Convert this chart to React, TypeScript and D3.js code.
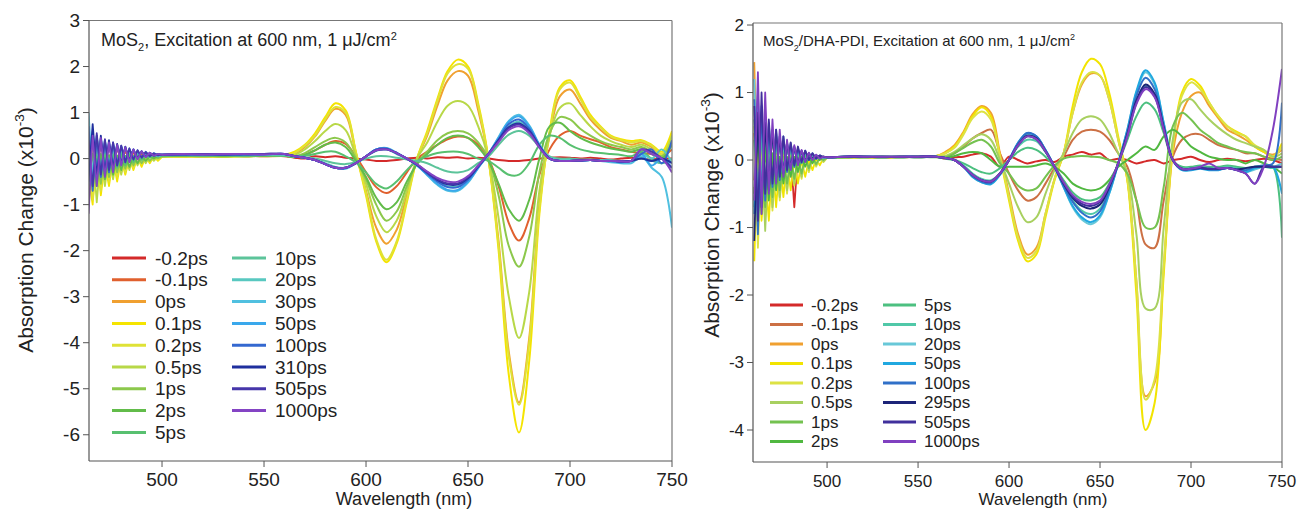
import React from 'react';
import * as d3 from 'd3';

// ---------- LEFT PANEL (MoS2) ----------
const L_WAVELENGTH = [464,466,468,470,472,474,476,478,480,482,484,486,488,490,492,494,496,498,500,
  510,520,530,540,550,560,
  565,570,575,580,585,590,595,600,605,610,615,620,625,630,635,640,645,650,655,660,665,670,675,680,685,690,695,700,705,710,715,720,725,730,735,740,745,750];

const L_LABELS = ['-0.2ps','-0.1ps','0ps','0.1ps','0.2ps','0.5ps','1ps','2ps','5ps','10ps','20ps','30ps','50ps','100ps','310ps','505ps','1000ps'];
const L_COLORS = ['#d42a2a','#e0602e','#f0a030','#f5e400','#dfe236','#b8d848','#8cc84c','#62bc4a','#58c070','#5cc49a','#58c8c0','#50c0e0','#3aa8ec','#3468d0','#1f2f9e','#4636aa','#8444c4'];

const L_m02 = [0.3,-0.4,0.35,-0.2,0.25,-0.15,0.2,-0.1,0.15,0.0,0.12,0.02,0.1,0.03,0.1,0.05,0.08,0.05,0.06,
  0.06,0.05,0.07,0.05,0.06,0.05,
  0.02,0.0,0.05,0.03,0.05,0.02,0.0,-0.02,-0.05,-0.05,-0.03,0.0,0.02,0.0,0.03,0.02,0.03,0.0,0.02,0.0,-0.03,-0.05,-0.05,-0.03,0.0,0.02,0.03,0.02,0.0,0.02,0.0,-0.02,0.0,0.02,0.0,-0.02,0.0,0.0];
const L_m01 = [-0.3,0.4,-0.25,0.3,-0.1,0.25,-0.05,0.2,0.0,0.15,0.02,0.12,0.04,0.1,0.05,0.08,0.06,0.07,0.06,
  0.05,0.06,0.05,0.06,0.05,0.06,
  0.03,0.08,0.18,0.3,0.38,0.32,0.05,-0.3,-0.62,-0.75,-0.6,-0.3,0.0,0.15,0.3,0.42,0.48,0.45,0.3,0.0,-0.6,-1.4,-1.78,-1.3,-0.35,0.2,0.5,0.6,0.5,0.42,0.35,0.25,0.2,0.15,0.12,0.1,0.05,0.2];
const L_0 = [0.5,-0.6,0.3,-0.4,0.2,-0.3,0.15,-0.2,0.1,-0.1,0.08,-0.05,0.08,0.0,0.06,0.03,0.05,0.04,0.05,
  0.05,0.04,0.05,0.06,0.05,0.06,
  0.1,0.25,0.48,0.82,1.08,0.95,0.12,-0.7,-1.5,-1.85,-1.55,-0.8,0.0,0.5,1.15,1.7,1.9,1.8,1.05,0.0,-1.8,-4.2,-5.3,-3.9,-1.0,0.5,1.35,1.5,1.2,0.85,0.62,0.45,0.38,0.3,0.35,0.25,0.1,0.45];
const L_01 = [-0.4,-1.0,0.2,-0.8,-0.1,-0.6,0.0,-0.5,0.0,-0.35,0.02,-0.25,0.03,-0.18,0.04,-0.1,0.05,-0.05,0.04,
  0.04,0.05,0.04,0.05,0.06,0.08,
  0.15,0.3,0.55,0.9,1.2,1.05,0.15,-0.8,-1.8,-2.25,-1.85,-0.95,0.0,0.6,1.3,1.9,2.15,2.0,1.2,0.0,-2.0,-4.7,-5.95,-4.4,-1.2,0.6,1.55,1.7,1.35,0.95,0.7,0.5,0.42,0.38,0.4,0.3,0.15,0.6];
const L_02 = [0.3,-0.9,-0.1,-0.7,0.1,-0.5,-0.05,-0.4,0.05,-0.3,0.0,-0.2,0.04,-0.12,0.05,-0.06,0.05,-0.02,0.05,
  0.05,0.04,0.05,0.05,0.06,0.07,
  0.12,0.28,0.5,0.85,1.12,1.0,0.15,-0.75,-1.75,-2.2,-1.8,-0.9,0.0,0.55,1.25,1.85,2.05,1.95,1.15,0.0,-1.9,-4.3,-5.35,-4.0,-1.1,0.55,1.5,1.65,1.3,0.9,0.68,0.48,0.4,0.35,0.38,0.28,0.1,0.5];
const L_05 = [-0.6,0.2,-0.95,0.1,-0.6,0.05,-0.45,0.05,-0.35,0.05,-0.25,0.05,-0.15,0.05,-0.1,0.05,-0.05,0.05,0.05,
  0.05,0.06,0.05,0.05,0.06,0.07,
  0.08,0.2,0.38,0.6,0.75,0.62,0.05,-0.55,-1.25,-1.6,-1.35,-0.7,0.0,0.35,0.8,1.15,1.25,1.15,0.7,0.0,-1.3,-3.0,-3.9,-2.9,-0.7,0.5,1.1,1.2,0.95,0.7,0.5,0.38,0.3,0.25,0.3,0.2,0.05,0.5];
const L_1 = [0.2,-0.7,0.0,-0.55,0.05,-0.4,0.02,-0.3,0.05,-0.22,0.05,-0.15,0.05,-0.1,0.05,-0.05,0.05,0.0,0.05,
  0.06,0.05,0.06,0.05,0.06,0.06,
  0.05,0.12,0.25,0.38,0.45,0.35,0.0,-0.45,-1.0,-1.35,-1.15,-0.6,-0.1,0.15,0.4,0.55,0.6,0.55,0.35,0.0,-0.8,-1.9,-2.35,-1.7,-0.3,0.55,0.9,0.85,0.65,0.5,0.38,0.3,0.25,0.2,0.25,0.15,0.05,0.35];
const L_2 = [-0.5,0.1,-0.6,0.1,-0.45,0.08,-0.35,0.07,-0.25,0.06,-0.18,0.06,-0.1,0.06,-0.05,0.06,0.0,0.06,0.05,
  0.06,0.06,0.05,0.06,0.06,0.06,
  0.03,0.08,0.18,0.3,0.35,0.25,-0.05,-0.4,-0.85,-1.1,-0.95,-0.5,-0.12,0.1,0.3,0.45,0.5,0.45,0.25,-0.05,-0.55,-1.1,-1.35,-0.9,0.0,0.7,0.78,0.6,0.45,0.35,0.28,0.22,0.18,0.15,0.2,0.1,0.0,0.3];
const L_5 = [0.1,-0.5,0.2,-0.4,0.15,-0.3,0.12,-0.2,0.1,-0.15,0.1,-0.08,0.08,-0.03,0.08,0.02,0.07,0.04,0.06,
  0.07,0.06,0.07,0.06,0.07,0.06,
  0.04,0.06,0.1,0.15,0.15,0.05,-0.08,-0.3,-0.55,-0.65,-0.5,-0.25,-0.05,0.05,0.12,0.15,0.15,0.1,0.0,-0.05,-0.2,-0.35,-0.35,-0.1,0.3,0.5,0.45,0.3,0.2,0.15,0.12,0.1,0.08,0.05,0.15,0.0,-0.1,0.0];
const L_10 = [0.4,-0.3,0.3,-0.25,0.25,-0.15,0.2,-0.1,0.18,-0.05,0.15,0.0,0.12,0.03,0.1,0.05,0.08,0.06,0.07,
  0.08,0.07,0.08,0.07,0.08,0.07,
  0.05,0.03,0.0,-0.05,-0.1,-0.12,-0.08,0.0,0.05,0.05,0.02,-0.02,-0.05,-0.1,-0.2,-0.28,-0.3,-0.25,-0.1,0.05,0.3,0.52,0.6,0.5,0.25,0.05,0.0,0.0,-0.02,-0.02,-0.03,-0.03,-0.05,-0.05,0.0,-0.05,-0.1,0.0];
const L_20 = [0.6,-0.4,0.45,-0.3,0.35,-0.2,0.3,-0.1,0.25,-0.05,0.2,0.0,0.15,0.03,0.12,0.05,0.1,0.06,0.08,
  0.08,0.09,0.08,0.09,0.08,0.09,
  0.05,0.02,-0.02,-0.1,-0.18,-0.2,-0.1,0.04,0.17,0.2,0.1,0.0,-0.13,-0.3,-0.48,-0.6,-0.6,-0.45,-0.18,0.08,0.4,0.7,0.8,0.62,0.28,0.02,-0.03,-0.03,-0.04,-0.03,-0.04,-0.05,-0.05,-0.05,0.1,0.0,0.2,-0.1];
const L_30 = [1.0,-0.5,0.5,-0.35,0.4,-0.2,0.3,-0.15,0.25,-0.05,0.2,0.0,0.16,0.03,0.12,0.05,0.1,0.06,0.08,
  0.09,0.08,0.09,0.08,0.1,0.09,
  0.05,0.02,-0.03,-0.12,-0.2,-0.22,-0.1,0.05,0.2,0.23,0.13,0.0,-0.15,-0.36,-0.57,-0.7,-0.7,-0.52,-0.2,0.1,0.47,0.82,0.95,0.72,0.3,0.0,-0.05,-0.05,-0.05,-0.03,-0.05,-0.08,-0.1,-0.1,0.05,-0.2,-0.4,-1.5];
const L_50 = [-0.6,0.6,-0.3,0.45,-0.25,0.35,-0.15,0.3,-0.1,0.25,-0.05,0.2,0.0,0.16,0.03,0.12,0.06,0.1,0.08,
  0.08,0.1,0.09,0.1,0.09,0.1,
  0.05,0.02,-0.03,-0.12,-0.2,-0.2,-0.1,0.05,0.2,0.22,0.12,0.0,-0.15,-0.35,-0.55,-0.68,-0.68,-0.5,-0.2,0.1,0.45,0.8,0.92,0.7,0.3,0.0,-0.05,-0.05,-0.05,-0.03,-0.05,-0.05,-0.08,-0.05,0.1,-0.15,0.0,-0.2];
const L_100 = [0.7,-0.7,0.5,-0.4,0.4,-0.3,0.35,-0.15,0.28,-0.08,0.22,-0.02,0.18,0.02,0.15,0.05,0.12,0.07,0.09,
  0.09,0.1,0.08,0.1,0.09,0.1,
  0.05,0.02,-0.03,-0.12,-0.2,-0.2,-0.1,0.05,0.2,0.22,0.12,0.0,-0.14,-0.33,-0.5,-0.62,-0.62,-0.46,-0.18,0.1,0.42,0.75,0.85,0.65,0.28,0.0,-0.05,-0.05,-0.04,-0.03,-0.05,-0.05,-0.08,-0.05,0.1,0.2,-0.1,0.4];
const L_310 = [-0.5,0.75,-0.4,0.5,-0.3,0.4,-0.2,0.32,-0.12,0.26,-0.05,0.2,0.0,0.16,0.04,0.13,0.06,0.1,0.08,
  0.1,0.09,0.1,0.09,0.1,0.1,
  0.05,0.02,-0.03,-0.12,-0.2,-0.2,-0.1,0.05,0.18,0.2,0.12,0.0,-0.13,-0.3,-0.46,-0.56,-0.56,-0.42,-0.17,0.1,0.4,0.68,0.76,0.6,0.26,0.0,-0.05,-0.05,-0.04,-0.03,-0.05,-0.05,-0.06,-0.05,0.0,-0.05,0.0,-0.1];
const L_505 = [0.4,-0.6,0.55,-0.35,0.42,-0.25,0.35,-0.15,0.28,-0.08,0.22,-0.02,0.18,0.02,0.14,0.05,0.11,0.07,0.09,
  0.09,0.1,0.09,0.1,0.1,0.1,
  0.05,0.02,-0.03,-0.12,-0.2,-0.2,-0.1,0.05,0.18,0.2,0.12,0.0,-0.13,-0.3,-0.45,-0.54,-0.54,-0.4,-0.16,0.1,0.38,0.66,0.74,0.58,0.25,0.0,-0.05,-0.05,-0.04,-0.03,-0.05,-0.05,-0.06,-0.05,0.2,0.15,0.0,-0.2];
const L_1000 = [-1.2,0.5,-0.6,0.45,-0.4,0.35,-0.3,0.3,-0.15,0.25,-0.08,0.2,-0.02,0.16,0.03,0.13,0.06,0.1,0.08,
  0.1,0.09,0.1,0.1,0.09,0.1,
  0.05,0.02,-0.03,-0.12,-0.2,-0.2,-0.1,0.05,0.18,0.2,0.12,0.0,-0.12,-0.28,-0.42,-0.5,-0.5,-0.38,-0.15,0.1,0.36,0.62,0.7,0.55,0.24,0.0,-0.05,-0.05,-0.04,-0.03,-0.05,-0.05,-0.06,-0.05,0.2,0.1,0.0,-0.3];
const L_SERIES = [L_m02,L_m01,L_0,L_01,L_02,L_05,L_1,L_2,L_5,L_10,L_20,L_30,L_50,L_100,L_310,L_505,L_1000];
const L_YTICKS = [3,2,1,0,-1,-2,-3,-4,-5,-6];
const L_XTICKS = [500,550,600,650,700,750];

// ---------- RIGHT PANEL (MoS2/DHA-PDI) ----------
const R_WAVELENGTH = [460,462,464,466,468,470,472,474,476,478,480,482,484,486,488,490,492,494,496,498,500,
  510,520,530,540,550,560,
  565,570,575,580,585,590,595,600,605,610,615,620,625,630,635,640,645,650,655,660,665,670,675,680,685,690,695,700,705,710,715,720,725,730,735,740,745,750];

const R_LABELS = ['-0.2ps','-0.1ps','0ps','0.1ps','0.2ps','0.5ps','1ps','2ps','5ps','10ps','20ps','50ps','100ps','295ps','505ps','1000ps'];
const R_COLORS = ['#d42a2a','#cc7044','#f0a030','#f2e400','#dde244','#a8d060','#74c250','#50b840','#4cc080','#50c8a8','#68c8d8','#20a8e0','#3070c8','#1c2478','#40309c','#8040c0'];

const R_m02 = [0.4,-0.5,0.3,-0.3,0.25,-0.2,0.2,-0.15,0.15,-0.1,0.12,-0.7,0.1,-0.05,0.08,0.0,0.06,0.02,0.05,0.03,0.04,
  0.04,0.05,0.03,0.05,0.04,0.05,
  0.02,0.04,0.05,0.08,0.1,0.05,-0.1,0.05,0.0,-0.05,-0.02,0.0,-0.03,0.05,0.08,0.12,0.08,0.1,0.0,0.02,0.0,-0.05,-0.02,0.0,-0.05,0.0,0.02,0.05,0.0,-0.03,0.0,0.02,0.0,-0.02,0.0,0.02,0.0,-0.05];
const R_m01 = [-0.3,0.5,-0.35,0.35,-0.2,0.3,-0.1,0.2,-0.05,0.15,0.0,0.12,0.02,0.1,0.03,0.08,0.04,0.06,0.05,0.05,0.04,
  0.05,0.04,0.05,0.04,0.05,0.05,
  0.05,0.1,0.2,0.32,0.4,0.45,0.1,-0.2,-0.45,-0.6,-0.55,-0.35,-0.12,0.05,0.3,0.42,0.45,0.42,0.3,0.1,-0.1,-0.6,-1.25,-1.3,-0.6,0.05,0.3,0.38,0.38,0.3,0.22,0.18,0.15,0.1,0.1,0.05,0.02,0.0];
const R_0 = [1.45,-0.6,0.5,-0.4,0.3,-0.3,0.25,-0.2,0.15,-0.1,0.1,-0.05,0.08,0.0,0.06,0.02,0.05,0.03,0.04,0.03,0.04,
  0.04,0.05,0.04,0.05,0.05,0.06,
  0.12,0.22,0.42,0.68,0.8,0.7,0.1,-0.5,-1.1,-1.4,-1.3,-0.8,-0.28,0.1,0.7,1.12,1.28,1.25,0.9,0.3,-0.28,-1.8,-3.5,-3.3,-1.6,0.1,0.7,0.95,1.0,0.8,0.62,0.45,0.38,0.3,0.2,0.12,0.08,0.15];
const R_01 = [-1.5,0.3,-0.9,-0.2,-0.9,0.0,-0.7,0.0,-0.55,0.0,-0.45,0.0,-0.35,0.0,-0.25,0.0,-0.15,0.02,-0.08,0.03,0.03,
  0.03,0.04,0.03,0.04,0.05,0.06,
  0.1,0.2,0.4,0.65,0.78,0.65,0.05,-0.6,-1.2,-1.5,-1.4,-0.85,-0.3,0.1,0.8,1.3,1.5,1.42,1.0,0.35,-0.3,-2.0,-4.0,-3.6,-1.7,0.2,1.0,1.2,1.1,0.85,0.65,0.5,0.42,0.35,0.2,0.12,0.05,0.25];
const R_02 = [0.5,-1.3,0.1,-0.85,0.05,-0.75,0.0,-0.6,0.0,-0.5,0.02,-0.38,0.02,-0.28,0.03,-0.18,0.03,-0.1,0.03,-0.03,0.03,
  0.03,0.04,0.04,0.04,0.05,0.06,
  0.1,0.18,0.38,0.62,0.72,0.6,0.05,-0.55,-1.15,-1.45,-1.35,-0.8,-0.28,0.1,0.7,1.15,1.3,1.25,0.9,0.3,-0.28,-1.8,-3.55,-3.25,-1.55,0.2,0.95,1.15,1.05,0.85,0.65,0.5,0.4,0.35,0.22,0.15,0.05,0.2];
const R_05 = [-0.4,-1.0,0.2,-1.05,0.1,-0.7,0.05,-0.55,0.05,-0.45,0.04,-0.35,0.04,-0.25,0.04,-0.15,0.04,-0.08,0.04,-0.02,0.04,
  0.04,0.04,0.05,0.04,0.05,0.05,
  0.06,0.12,0.22,0.32,0.38,0.3,0.0,-0.35,-0.7,-0.92,-0.85,-0.5,-0.15,0.1,0.4,0.6,0.65,0.6,0.4,0.1,-0.2,-1.1,-2.2,-2.2,-1.0,0.3,0.85,0.9,0.75,0.6,0.48,0.38,0.3,0.25,0.2,0.15,0.05,0.1];
const R_1 = [0.3,-0.8,-0.2,-0.7,0.1,-0.55,0.05,-0.45,0.05,-0.35,0.04,-0.28,0.04,-0.2,0.04,-0.12,0.04,-0.06,0.04,0.0,0.04,
  0.04,0.05,0.04,0.05,0.04,0.05,
  0.04,0.1,0.18,0.26,0.3,0.2,-0.05,-0.2,-0.38,-0.45,-0.42,-0.25,-0.08,0.02,0.05,0.06,0.05,0.04,0.0,-0.05,-0.2,-0.6,-1.0,-1.0,-0.4,0.5,0.7,0.6,0.45,0.35,0.25,0.2,0.15,0.12,0.1,0.05,0.0,0.05];
const R_2 = [-0.5,0.4,-0.8,0.2,-0.6,0.1,-0.45,0.05,-0.35,0.05,-0.25,0.05,-0.18,0.05,-0.1,0.05,-0.05,0.05,0.0,0.04,0.04,
  0.05,0.04,0.05,0.04,0.05,0.04,
  0.03,0.06,0.1,0.12,0.1,0.0,-0.1,-0.1,-0.1,-0.1,-0.08,-0.05,-0.1,-0.2,-0.35,-0.42,-0.45,-0.42,-0.3,-0.1,0.0,0.1,0.2,0.15,0.35,0.45,0.35,0.2,0.12,0.05,0.02,0.0,0.0,-0.05,0.0,-0.05,-0.1,-0.2];
const R_5 = [0.6,-0.6,0.4,-0.5,0.3,-0.35,0.25,-0.25,0.2,-0.15,0.15,-0.1,0.1,-0.05,0.08,0.0,0.06,0.02,0.05,0.03,0.04,
  0.04,0.05,0.04,0.05,0.04,0.05,
  0.02,0.0,-0.05,-0.12,-0.18,-0.2,-0.12,0.0,0.12,0.18,0.15,0.05,-0.1,-0.3,-0.48,-0.58,-0.6,-0.55,-0.35,-0.05,0.3,0.65,0.85,0.75,0.4,0.0,-0.1,-0.1,-0.08,-0.1,-0.1,-0.08,-0.1,-0.12,-0.1,-0.08,-0.1,-1.15];
const R_10 = [-0.7,0.8,-0.4,0.5,-0.3,0.4,-0.25,0.3,-0.15,0.22,-0.1,0.16,-0.05,0.12,0.0,0.1,0.02,0.07,0.04,0.05,0.04,
  0.05,0.04,0.05,0.05,0.04,0.05,
  0.03,0.0,-0.08,-0.2,-0.28,-0.3,-0.2,0.0,0.2,0.3,0.28,0.12,-0.1,-0.35,-0.6,-0.75,-0.8,-0.72,-0.45,-0.05,0.4,0.85,1.1,0.95,0.5,0.0,-0.12,-0.12,-0.1,-0.12,-0.12,-0.1,-0.12,-0.15,-0.12,-0.1,-0.12,-0.1];
const R_20 = [1.2,-0.9,0.7,-0.5,0.5,-0.35,0.4,-0.25,0.3,-0.15,0.22,-0.08,0.16,-0.03,0.12,0.0,0.08,0.02,0.06,0.03,0.04,
  0.05,0.05,0.04,0.05,0.05,0.05,
  0.03,0.0,-0.1,-0.25,-0.33,-0.35,-0.22,0.0,0.25,0.38,0.33,0.15,-0.1,-0.4,-0.7,-0.88,-0.95,-0.85,-0.5,-0.05,0.45,1.0,1.3,1.12,0.55,0.0,-0.14,-0.14,-0.12,-0.14,-0.14,-0.12,-0.14,-0.18,-0.14,-0.1,-0.1,-0.05];
const R_50 = [-0.8,1.0,-0.6,0.6,-0.4,0.45,-0.3,0.35,-0.2,0.25,-0.12,0.18,-0.06,0.13,-0.02,0.1,0.02,0.07,0.04,0.05,0.04,
  0.05,0.05,0.05,0.04,0.05,0.05,
  0.03,0.0,-0.1,-0.25,-0.33,-0.36,-0.22,0.0,0.26,0.4,0.35,0.15,-0.1,-0.4,-0.68,-0.85,-0.92,-0.82,-0.5,-0.05,0.45,1.02,1.33,1.15,0.55,0.0,-0.15,-0.15,-0.13,-0.15,-0.15,-0.12,-0.15,-0.18,-0.12,-0.1,-0.1,-0.5];
const R_100 = [0.9,-1.1,0.8,-0.6,0.55,-0.4,0.45,-0.3,0.35,-0.18,0.25,-0.1,0.18,-0.04,0.14,0.0,0.1,0.02,0.07,0.04,0.04,
  0.05,0.05,0.04,0.05,0.05,0.05,
  0.03,0.0,-0.1,-0.24,-0.32,-0.34,-0.2,0.0,0.25,0.4,0.35,0.15,-0.1,-0.38,-0.62,-0.78,-0.85,-0.76,-0.45,-0.05,0.42,0.95,1.22,1.05,0.5,0.0,-0.14,-0.14,-0.12,-0.14,-0.14,-0.12,-0.14,-0.15,-0.1,-0.08,-0.05,0.85];
const R_295 = [-1.2,0.7,-0.7,0.55,-0.45,0.45,-0.3,0.35,-0.2,0.26,-0.12,0.2,-0.06,0.14,-0.02,0.1,0.02,0.07,0.04,0.05,0.04,
  0.05,0.05,0.05,0.05,0.05,0.05,
  0.03,0.0,-0.1,-0.22,-0.3,-0.32,-0.2,0.0,0.22,0.36,0.32,0.13,-0.1,-0.35,-0.56,-0.68,-0.72,-0.66,-0.4,-0.05,0.38,0.88,1.12,0.98,0.48,0.0,-0.13,-0.13,-0.12,-0.13,-0.13,-0.12,-0.14,-0.12,-0.1,-0.1,-0.1,-0.1];
const R_505 = [0.8,-0.9,1.0,-0.5,0.6,-0.35,0.45,-0.25,0.35,-0.15,0.26,-0.08,0.2,-0.03,0.14,0.0,0.1,0.02,0.07,0.04,0.04,
  0.05,0.05,0.05,0.05,0.05,0.05,
  0.03,0.0,-0.1,-0.22,-0.3,-0.32,-0.2,0.0,0.22,0.35,0.31,0.13,-0.1,-0.34,-0.54,-0.65,-0.68,-0.62,-0.38,-0.05,0.36,0.85,1.08,0.95,0.46,0.0,-0.13,-0.13,-0.12,-0.13,-0.13,-0.12,-0.15,-0.2,-0.35,-0.1,-0.1,-0.1];
const R_1000 = [-0.6,1.3,-0.8,1.0,-0.5,0.6,-0.35,0.45,-0.25,0.3,-0.15,0.22,-0.08,0.15,-0.03,0.11,0.0,0.08,0.02,0.05,0.04,
  0.05,0.05,0.05,0.05,0.05,0.05,
  0.03,0.0,-0.1,-0.22,-0.3,-0.32,-0.2,0.0,0.22,0.35,0.31,0.13,-0.1,-0.33,-0.52,-0.62,-0.65,-0.6,-0.37,-0.05,0.35,0.83,1.05,0.93,0.45,0.0,-0.13,-0.13,-0.1,-0.05,-0.12,-0.12,-0.15,-0.2,-0.35,-0.1,0.45,1.35];
const R_SERIES = [R_m02,R_m01,R_0,R_01,R_02,R_05,R_1,R_2,R_5,R_10,R_20,R_50,R_100,R_295,R_505,R_1000];
const R_YTICKS = [2,1,0,-1,-2,-3,-4];
const R_XTICKS = [500,550,600,650,700,750];

const FONT = '"Liberation Sans", Arial, Helvetica, sans-serif';

type PanelCfg = {
  id: string;
  wl: number[];
  noiseEnd: number;
  series: number[][];
  labels: string[];
  colors: string[];
  yTicks: number[];
  xTicks: number[];
  xDomain: [number, number];
  yDomain: [number, number];
  left: number; right: number; top: number; bottom: number;
  title: string;
  titleX: number; titleY: number; titleSize: number;
  yLabelX: number; yLabelY: number; yLabelSize: number;
  xLabelX: number; xLabelY: number; xLabelSize: number;
  tickSize: number;
  legend: { x1: number; x2: number; y: number; dy: number; colGap: number; textGap: number; perCol: number; size: number };
};

function Panel({ c }: { c: PanelCfg }) {
  const x = d3.scaleLinear().domain(c.xDomain).range([c.left, c.right]);
  const y = d3.scaleLinear().domain(c.yDomain).range([c.bottom, c.top]);
  const pts = (s: number[]) => s.map((v, i) => [c.wl[i], v] as [number, number]);
  const noiseLine = d3.line<[number, number]>().x((d) => x(d[0])).y((d) => y(d[1])).curve(d3.curveLinear);
  const smoothLine = d3.line<[number, number]>().x((d) => x(d[0])).y((d) => y(d[1])).curve(d3.curveCatmullRom.alpha(0.5));
  const lg = c.legend;
  const sub = Math.round(c.titleSize * 0.62);
  return (
    <g>
      <defs>
        <clipPath id={`clip-${c.id}`}>
          <rect x={c.left} y={c.top} width={c.right - c.left} height={c.bottom - c.top} />
        </clipPath>
      </defs>
      <g clipPath={`url(#clip-${c.id})`}>
        {c.series.map((s, i) => {
          const p = pts(s);
          return (
            <g key={i}>
              <path d={noiseLine(p.slice(0, c.noiseEnd)) || ''} fill="none" stroke={c.colors[i]} strokeWidth={1.8} strokeLinejoin="round" />
              <path d={smoothLine(p.slice(c.noiseEnd - 1)) || ''} fill="none" stroke={c.colors[i]} strokeWidth={2} strokeLinejoin="round" />
            </g>
          );
        })}
      </g>
      {/* frame */}
      <line x1={c.left} x2={c.right} y1={c.top} y2={c.top} stroke="#777" strokeWidth={1.2} />
      <line x1={c.right} x2={c.right} y1={c.top} y2={c.bottom} stroke="#777" strokeWidth={1.2} />
      <line x1={c.left} x2={c.left} y1={c.top} y2={c.bottom} stroke="#555" strokeWidth={1.2} />
      <line x1={c.left} x2={c.right} y1={c.bottom} y2={c.bottom} stroke="#555" strokeWidth={1.2} />
      {c.yTicks.map((t) => (
        <g key={`y${t}`}>
          <line x1={c.left - 6} x2={c.left} y1={y(t)} y2={y(t)} stroke="#555" strokeWidth={1} />
          <text x={c.left - 9} y={y(t)} dy="0.35em" textAnchor="end" fontSize={c.tickSize} fontFamily={FONT} fill="#222">{t}</text>
        </g>
      ))}
      {c.xTicks.map((t) => (
        <g key={`x${t}`}>
          <line x1={x(t)} x2={x(t)} y1={c.bottom} y2={c.bottom + 6} stroke="#555" strokeWidth={1} />
          <text x={x(t)} y={c.bottom + 25} textAnchor="middle" fontSize={c.tickSize} fontFamily={FONT} fill="#222">{t}</text>
        </g>
      ))}
      <text x={c.xLabelX} y={c.xLabelY} textAnchor="middle" fontSize={c.xLabelSize} fontFamily={FONT} fill="#222">Wavelength (nm)</text>
      <text transform={`translate(${c.yLabelX},${c.yLabelY}) rotate(-90)`} textAnchor="middle" fontSize={c.yLabelSize} fontFamily={FONT} fill="#222">
        Absorption Change (x10<tspan dy={-9} fontSize={c.yLabelSize * 0.65}>-3</tspan><tspan dy={9}>)</tspan>
      </text>
      <text x={c.titleX} y={c.titleY} fontSize={c.titleSize} fontFamily={FONT} fill="#222">
        MoS<tspan dy={5} fontSize={sub}>2</tspan><tspan dy={-5}>{c.title}</tspan><tspan dy={-6} fontSize={sub}>2</tspan>
      </text>
      {c.labels.map((lab, i) => {
        const col = Math.floor(i / lg.perCol);
        const row = i % lg.perCol;
        const ly = lg.y + row * lg.dy;
        const lx1 = lg.x1 + col * lg.colGap;
        const lx2 = lg.x2 + col * lg.colGap;
        return (
          <g key={lab}>
            <line x1={lx1} x2={lx2} y1={ly} y2={ly} stroke={c.colors[i]} strokeWidth={3} />
            <text x={lx2 + lg.textGap} y={ly} dy="0.35em" fontSize={lg.size} fontFamily={FONT} fill="#222">{lab}</text>
          </g>
        );
      })}
    </g>
  );
}

const LEFT: PanelCfg = {
  id: 'l', wl: L_WAVELENGTH, noiseEnd: 19, series: L_SERIES, labels: L_LABELS, colors: L_COLORS,
  yTicks: L_YTICKS, xTicks: L_XTICKS,
  xDomain: [464.2, 750], yDomain: [-6.57, 3],
  left: 89, right: 672, top: 20.5, bottom: 461,
  title: ', Excitation at 600 nm, 1 \u03bcJ/cm',
  titleX: 101, titleY: 46, titleSize: 18,
  yLabelX: 33, yLabelY: 230, yLabelSize: 21,
  xLabelX: 404, xLabelY: 505, xLabelSize: 18,
  tickSize: 19,
  legend: { x1: 112, x2: 146, y: 258, dy: 21.8, colGap: 120, textGap: 9, perCol: 9, size: 19 },
};

const RIGHT: PanelCfg = {
  id: 'r', wl: R_WAVELENGTH, noiseEnd: 21, series: R_SERIES, labels: R_LABELS, colors: R_COLORS,
  yTicks: R_YTICKS, xTicks: R_XTICKS,
  xDomain: [459.3, 750], yDomain: [-4.474, 2.03],
  left: 753, right: 1282, top: 23, bottom: 462,
  title: '/DHA-PDI, Excitation at 600 nm, 1 \u03bcJ/cm',
  titleX: 763, titleY: 46, titleSize: 15,
  yLabelX: 719, yLabelY: 215, yLabelSize: 21,
  xLabelX: 1043, xLabelY: 505, xLabelSize: 17,
  tickSize: 17,
  legend: { x1: 770, x2: 803, y: 305, dy: 19.5, colGap: 113, textGap: 8, perCol: 8, size: 17 },
};

export default function App() {
  return (
    <svg width={1299} height={510} style={{ position: 'absolute', left: 0, top: 0, background: '#fff' }}>
      <rect x={0} y={0} width={1299} height={510} fill="#fff" />
      <Panel c={LEFT} />
      <Panel c={RIGHT} />
    </svg>
  );
}
